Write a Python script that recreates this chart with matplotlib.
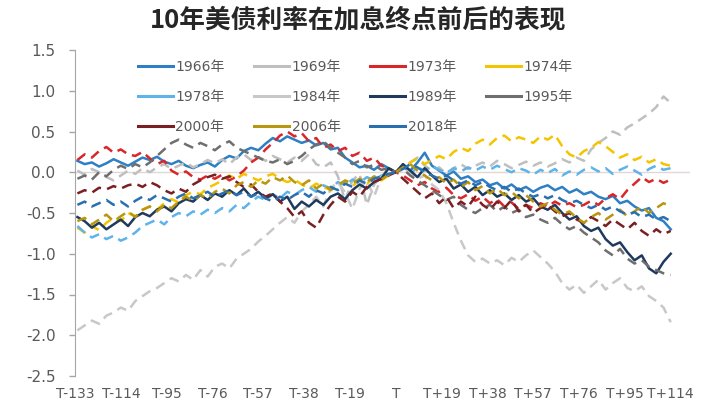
import matplotlib
matplotlib.use("Agg")
import matplotlib.pyplot as plt
from matplotlib.lines import Line2D
import numpy as np

plt.rcParams['font.family'] = ['DejaVu Sans', 'Noto Sans CJK SC']

# trading days relative to the last hike (T), every 3 days
days = list(range(-132, 115, 3))

tick_pos = [-133, -114, -95, -76, -57, -38, -19, 0, 19, 38, 57, 76, 95, 114]
tick_labels = ['T-133', 'T-114', 'T-95', 'T-76', 'T-57', 'T-38', 'T-19', 'T',
               'T+19', 'T+38', 'T+57', 'T+76', 'T+95', 'T+114']

# change of the 10y yield vs. day T (pct points)
y1966 = [0.14, 0.10, 0.12, 0.07, 0.11, 0.16, 0.12, 0.08, 0.13, 0.18,
         0.15, 0.19, 0.13, 0.10, 0.14, 0.08, 0.05, 0.09, 0.12, 0.07,
         0.15, 0.20, 0.17, 0.26, 0.30, 0.27, 0.35, 0.42, 0.38, 0.44,
         0.40, 0.36, 0.39, 0.33, 0.36, 0.28, 0.30, 0.18, 0.12, 0.06,
         0.08, 0.03, 0.10, 0.05, 0.0,
         0.06, 0.02, 0.12, 0.24, 0.08,
         0.02, -0.04, 0.01, -0.08, -0.05, -0.12, -0.09, -0.16, -0.13, -0.20,
         -0.15, -0.22, -0.18, -0.24, -0.19, -0.16, -0.22, -0.18, -0.25, -0.21,
         -0.27, -0.24, -0.30, -0.33, -0.29, -0.38, -0.35, -0.42, -0.47, -0.44,
         -0.56, -0.60, -0.70]
y1969 = [0.02, -0.03, 0.04, 0.0, -0.06, -0.10, -0.04, 0.02, -0.02, 0.05,
         0.0, 0.06, 0.10, 0.04, 0.08, 0.12, 0.06, 0.10, 0.15, 0.11,
         0.16, 0.10, 0.18, 0.22, 0.15, 0.19, 0.14, 0.20, 0.16, 0.12,
         0.18, 0.14, 0.22, 0.10, 0.06, 0.12, -0.05, -0.35, -0.10, -0.02,
         -0.40, -0.15, -0.05, 0.04, 0.0,
         0.06, 0.12, 0.18, 0.08, 0.02,
         0.06, -0.02, 0.05, 0.10, 0.04, 0.08, 0.12, 0.07, 0.14, 0.10,
         0.05, 0.09, 0.13, 0.08, 0.12, 0.07, 0.11, 0.16, 0.12, 0.18,
         0.14, 0.28, 0.36, 0.42, 0.50, 0.46, 0.55, 0.60, 0.66, 0.72,
         0.80, 0.93, 0.85]
y1973 = [0.15, 0.22, 0.18, 0.26, 0.31, 0.24, 0.28, 0.22, 0.20, 0.25,
         0.17, 0.10, 0.14, 0.02, -0.03, 0.01, -0.06, -0.09, -0.04, -0.08,
         -0.03, -0.10, -0.05, 0.02, 0.12, 0.18, 0.28, 0.36, 0.45, 0.50,
         0.44, 0.48, 0.38, 0.42, 0.30, 0.34, 0.26, 0.30, 0.20, 0.24,
         0.14, 0.18, 0.08, 0.05, 0.0,
         -0.04, -0.10, -0.16, -0.12, -0.20,
         -0.24, -0.19, -0.28, -0.32, -0.27, -0.35, -0.30, -0.38, -0.33, -0.42,
         -0.37, -0.45, -0.40, -0.44, -0.38, -0.42, -0.36, -0.41, -0.38, -0.43,
         -0.40, -0.35, -0.40, -0.32, -0.27, -0.33, -0.22, -0.14, -0.06, -0.12,
         -0.08, -0.13, -0.09]
y1974 = [-0.68, -0.74, -0.66, -0.71, -0.62, -0.56, -0.60, -0.50, -0.54, -0.46,
         -0.42, -0.46, -0.38, -0.33, -0.37, -0.28, -0.24, -0.27, -0.19, -0.15,
         -0.10, -0.04, -0.08, -0.02, -0.06, -0.10, -0.05, -0.02, -0.08, -0.12,
         -0.09, -0.15, -0.20, -0.14, -0.18, -0.22, -0.16, -0.12, -0.17, -0.10,
         -0.14, -0.07, -0.10, -0.04, 0.0,
         0.05, 0.12, 0.17, 0.10, 0.15,
         0.20, 0.16, 0.25, 0.30, 0.26, 0.35, 0.40, 0.34, 0.42, 0.45,
         0.38, 0.43, 0.40, 0.36, 0.44, 0.40, 0.46, 0.32, 0.22, 0.18,
         0.26, 0.30, 0.37, 0.32, 0.25, 0.18, 0.22, 0.15, 0.19, 0.12,
         0.16, 0.10, 0.08]
y1978 = [-0.66, -0.74, -0.80, -0.76, -0.82, -0.78, -0.84, -0.80, -0.74, -0.66,
         -0.62, -0.58, -0.64, -0.55, -0.50, -0.54, -0.48, -0.52, -0.46, -0.50,
         -0.44, -0.48, -0.40, -0.44, -0.36, -0.30, -0.34, -0.27, -0.32, -0.24,
         -0.28, -0.22, -0.18, -0.24, -0.16, -0.20, -0.12, -0.16, -0.09, -0.13,
         -0.06, -0.10, -0.04, -0.02, 0.0,
         0.04, -0.02, 0.06, 0.02, 0.08,
         0.03, -0.01, 0.05, 0.01, 0.06, 0.02, 0.07, 0.03, 0.08, 0.04,
         0.0, 0.05, 0.02, -0.03, 0.03, -0.01, 0.04, -0.04, 0.01, -0.03,
         0.03, 0.06, 0.01, 0.05, -0.02, 0.03, 0.07, 0.02, -0.03, 0.04,
         0.08, 0.03, 0.05]
y1984 = [-1.94, -1.88, -1.82, -1.86, -1.76, -1.72, -1.66, -1.70, -1.58, -1.52,
         -1.46, -1.42, -1.36, -1.30, -1.34, -1.26, -1.32, -1.20, -1.28, -1.16,
         -1.12, -1.18, -1.06, -1.00, -0.94, -0.85, -0.78, -0.70, -0.62, -0.55,
         -0.62, -0.48, -0.40, -0.30, -0.42, -0.20, -0.12, -0.25, -0.45, -0.20,
         -0.10, -0.30, -0.06, 0.02, 0.0,
         0.06, -0.02, -0.08, -0.04, -0.15,
         -0.22, -0.38, -0.62, -0.84, -1.02, -1.10, -1.06, -1.12, -1.08, -1.14,
         -1.05, -1.10, -1.02, -0.96, -1.04, -1.12, -1.22, -1.36, -1.44, -1.38,
         -1.48, -1.40, -1.32, -1.44, -1.36, -1.30, -1.42, -1.46, -1.40, -1.52,
         -1.58, -1.66, -1.84]
y1989 = [-0.55, -0.60, -0.68, -0.62, -0.70, -0.64, -0.58, -0.66, -0.55, -0.50,
         -0.54, -0.46, -0.42, -0.48, -0.38, -0.33, -0.36, -0.28, -0.34, -0.26,
         -0.30, -0.22, -0.28, -0.20, -0.30, -0.24, -0.32, -0.27, -0.36, -0.30,
         -0.45, -0.36, -0.42, -0.34, -0.40, -0.30, -0.26, -0.33, -0.22, -0.15,
         -0.20, -0.12, -0.08, 0.05, 0.0,
         0.10, 0.02, -0.06, 0.05, -0.04,
         -0.12, -0.08, -0.20, -0.15, -0.24, -0.18, -0.28, -0.22, -0.30, -0.26,
         -0.34, -0.28, -0.36, -0.32, -0.42, -0.46, -0.40, -0.50, -0.58, -0.54,
         -0.66, -0.72, -0.68, -0.82, -0.90, -0.86, -0.98, -1.08, -1.02, -1.18,
         -1.24, -1.10, -1.00]
y1995 = [-0.08, -0.04, -0.09, 0.0, -0.05, 0.03, 0.08, 0.04, 0.10, 0.06,
         0.12, 0.20, 0.28, 0.36, 0.40, 0.34, 0.30, 0.36, 0.32, 0.27,
         0.34, 0.38, 0.30, 0.26, 0.22, 0.18, 0.14, 0.12, 0.16, 0.10,
         0.14, 0.20, 0.28, 0.34, 0.38, 0.30, 0.24, 0.18, 0.10, 0.14,
         0.06, 0.09, 0.03, 0.05, 0.0,
         0.04, -0.04, -0.10, -0.16, -0.22,
         -0.28, -0.34, -0.30, -0.40, -0.46, -0.50, -0.44, -0.40, -0.48, -0.42,
         -0.50, -0.46, -0.55, -0.52, -0.58, -0.62, -0.56, -0.64, -0.70, -0.66,
         -0.74, -0.80, -0.86, -0.96, -1.02, -0.94, -1.06, -1.12, -1.08, -1.16,
         -1.20, -1.24, -1.26]
y2000 = [-0.26, -0.22, -0.25, -0.19, -0.21, -0.17, -0.20, -0.16, -0.14, -0.18,
         -0.12, -0.16, -0.22, -0.26, -0.20, -0.24, -0.15, -0.10, -0.06, -0.03,
         -0.08, -0.05, -0.12, -0.18, -0.15, -0.24, -0.30, -0.26, -0.36, -0.44,
         -0.55, -0.48, -0.62, -0.68, -0.52, -0.40, -0.30, -0.36, -0.24, -0.30,
         -0.18, -0.12, -0.08, -0.04, 0.0,
         -0.08, -0.16, -0.24, -0.32, -0.26,
         -0.38, -0.30, -0.44, -0.36, -0.42, -0.30, -0.40, -0.46, -0.36, -0.44,
         -0.34, -0.48, -0.40, -0.50, -0.44, -0.40, -0.48, -0.54, -0.50, -0.58,
         -0.62, -0.55, -0.60, -0.66, -0.58, -0.64, -0.70, -0.62, -0.72, -0.78,
         -0.70, -0.76, -0.72]
y2006 = [-0.60, -0.56, -0.64, -0.58, -0.52, -0.60, -0.54, -0.48, -0.55, -0.46,
         -0.42, -0.48, -0.40, -0.44, -0.36, -0.30, -0.35, -0.28, -0.32, -0.24,
         -0.20, -0.26, -0.16, -0.12, -0.18, -0.10, -0.14, -0.06, -0.10, -0.04,
         -0.12, -0.16, -0.10, -0.20, -0.14, -0.22, -0.16, -0.10, -0.14, -0.08,
         -0.12, -0.05, -0.09, -0.03, 0.0,
         0.06, 0.10, 0.02, -0.04, -0.10,
         -0.06, -0.14, -0.09, -0.18, -0.12, -0.22, -0.17, -0.26, -0.20, -0.28,
         -0.24, -0.32, -0.28, -0.36, -0.42, -0.38, -0.46, -0.52, -0.48, -0.56,
         -0.62, -0.55, -0.50, -0.58, -0.52, -0.46, -0.54, -0.48, -0.42, -0.50,
         -0.44, -0.38, -0.42]
y2018 = [-0.40, -0.36, -0.42, -0.38, -0.34, -0.40, -0.36, -0.42, -0.35, -0.30,
         -0.34, -0.28, -0.32, -0.36, -0.30, -0.26, -0.32, -0.28, -0.24, -0.30,
         -0.26, -0.22, -0.28, -0.24, -0.30, -0.26, -0.32, -0.36, -0.30, -0.34,
         -0.28, -0.24, -0.30, -0.22, -0.26, -0.18, -0.22, -0.14, -0.18, -0.10,
         -0.14, -0.08, -0.05, -0.02, 0.0,
         0.04, 0.10, 0.06, 0.0, -0.04,
         -0.08, -0.04, -0.10, -0.14, -0.10, -0.16, -0.12, -0.18, -0.22, -0.18,
         -0.24, -0.20, -0.26, -0.30, -0.27, -0.32, -0.28, -0.34, -0.38, -0.35,
         -0.40, -0.44, -0.40, -0.46, -0.42, -0.48, -0.52, -0.49, -0.55, -0.52,
         -0.58, -0.55, -0.60]

years = ['1966年', '1969年', '1973年', '1974年', '1978年', '1984年',
         '1989年', '1995年', '2000年', '2006年', '2018年']
series = [y1966, y1969, y1973, y1974, y1978, y1984, y1989, y1995, y2000, y2006, y2018]
colors = ['#2E7FC4', '#BFBFBF', '#D9262B', '#F5C400', '#5EB3E8', '#C8C8C8',
          '#1F3A5C', '#6E6E6E', '#7A1F22', '#B8960F', '#2A6FB0']
dashed = [False, True, True, True, True, True, False, True, True, True, True]

fig = plt.figure(figsize=(7.17, 4.03), dpi=100)
ax = fig.add_axes([75 / 717, 27 / 403, 615 / 717, 326 / 403])

ax.axhline(0, color='#E3D6D6', lw=1, zorder=1)
for vals, c, d in zip(series, colors, dashed):
    ls = (0, (4, 2.5)) if d else '-'
    ax.plot(days, vals, color=c, lw=1.8, ls=ls, zorder=2)

ax.set_xlim(-131.5, 122)
ax.set_ylim(-2.5, 1.5)
yt = np.arange(-2.5, 1.51, 0.5)
ax.set_yticks(yt)
ax.set_yticklabels([f'{v:.1f}' for v in yt])
ax.set_xticks(tick_pos)
ax.set_xticklabels(tick_labels)

for s in ['top', 'right', 'bottom']:
    ax.spines[s].set_visible(False)
ax.spines['left'].set_color('#A6A6A6')
ax.tick_params(axis='y', colors='#A6A6A6', labelcolor='#595959', labelsize=11,
               length=4, width=1, pad=10)
ax.tick_params(axis='x', length=0, labelcolor='#595959', labelsize=10, pad=8)

# legend filled row by row (matplotlib fills by column)
order = [0, 4, 8, 1, 5, 9, 2, 6, 10, 3, 7]
handles = [Line2D([0], [0], color=colors[i], lw=2.2) for i in order]
labels = [years[i] for i in order]
leg = fig.legend(handles, labels, loc='upper left', ncol=4,
                 bbox_to_anchor=(138 / 717, 1 - 60 / 403), frameon=False,
                 fontsize=10, handlelength=2.5, handletextpad=0.2,
                 columnspacing=2.1, labelspacing=1.14, borderpad=0, borderaxespad=0)
for t in leg.get_texts():
    t.set_color('#595959')

fig.text(0.5, 1 - 20 / 403, '10年美债利率在加息终点前后的表现', ha='center', va='center',
         fontsize=18.5, fontweight='bold', color='#262626',
         family=['Noto Sans CJK SC', 'DejaVu Sans'])

fig.savefig('out.png', dpi=100)
